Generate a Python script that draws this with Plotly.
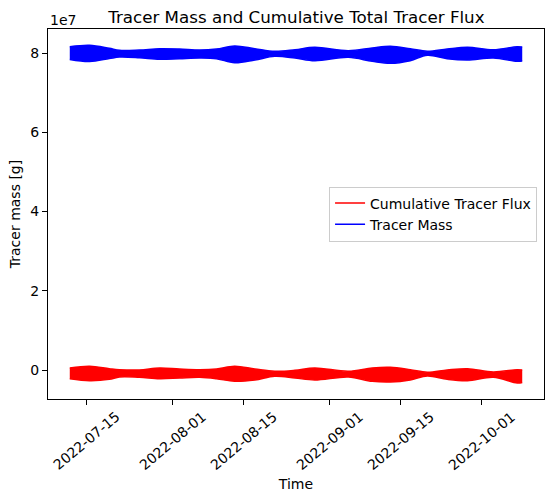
import numpy as np
import plotly.graph_objects as go

# envelope of the hourly signal (values in 1e6 g)
datas = ["2022-07-11 19:00", "2022-07-15 17:00", "2022-07-19 14:00", "2022-07-21 14:00",
         "2022-07-25 12:00", "2022-07-29 12:00", "2022-08-02 10:00", "2022-08-06 10:00",
         "2022-08-09 17:00", "2022-08-13 07:00", "2022-08-17 07:00", "2022-08-21 05:00",
         "2022-08-25 05:00", "2022-08-29 02:00", "2022-09-04 17:00", "2022-09-09 10:00",
         "2022-09-13 00:00", "2022-09-16 22:00", "2022-09-20 07:00", "2022-09-24 05:00",
         "2022-09-28 05:00", "2022-10-03 07:00", "2022-10-08 00:00", "2022-10-09 00:00"]

massa_max = [81.60, 81.97, 81.19, 80.68, 80.76, 81.09, 81.01, 80.76, 81.01, 81.77, 81.09, 80.43,
             80.84, 81.44, 80.58, 81.27, 81.70, 81.09, 80.43, 81.01, 81.44, 80.84, 81.60, 81.52]
massa_min = [78.35, 77.85, 78.61, 78.99, 78.81, 78.40, 78.56, 78.73, 78.56, 77.54, 78.23, 79.16,
             78.73, 78.05, 78.91, 77.90, 77.39, 78.05, 79.42, 78.56, 78.23, 78.73, 77.90, 77.97]

fluxo_max = [0.51, 0.94, 0.33, 0.08, 0.00, 0.51, 0.25, 0.08, 0.25, 0.94, 0.25, -0.33,
             -0.08, 0.51, -0.33, 0.51, 0.68, 0.08, -0.58, 0.00, 0.33, -0.51, 0.08, 0.00]
fluxo_min = [-2.20, -2.71, -2.36, -1.77, -1.85, -2.20, -2.03, -1.85, -2.20, -2.86, -2.53, -1.60,
             -2.03, -2.53, -1.77, -2.86, -3.04, -2.53, -1.52, -2.36, -2.71, -1.85, -3.29, -3.16]

ticks_x = ["2022-07-15", "2022-08-01", "2022-08-15", "2022-09-01", "2022-09-15", "2022-10-01"]
ticks_y = [0, 2e7, 4e7, 6e7, 8e7]
rotulos_y = ["0", "2", "4", "6", "8"]

escala = 1e6
fonte = "DejaVu Sans"

fig = go.Figure()

for nome, cor, sup, inf in [("Cumulative Tracer Flux", "#ff0000", fluxo_max, fluxo_min),
                            ("Tracer Mass", "#0000ff", massa_max, massa_min)]:
    fig.add_trace(go.Scatter(x=datas, y=np.array(sup) * escala, mode="lines", name=nome,
                             legendgroup=nome, line=dict(color=cor, width=1.5, shape="spline")))
    fig.add_trace(go.Scatter(x=datas, y=np.array(inf) * escala, mode="lines", name=nome,
                             legendgroup=nome, showlegend=False, fill="tonexty",
                             fillcolor=cor, line=dict(color=cor, width=1.5, shape="spline")))

# rotulos do eixo x centrados no tick, como no matplotlib
for t in ticks_x:
    fig.add_annotation(x=t, xref="x", y=0, yref="paper", text=t, textangle=-40,
                       xanchor="center", yanchor="middle", yshift=-42, showarrow=False,
                       font=dict(family=fonte, size=14, color="black"))

fig.add_annotation(x=0, xref="paper", y=1, yref="paper", text="1e7", xanchor="left",
                   yanchor="bottom", yshift=-1, showarrow=False,
                   font=dict(family=fonte, size=14, color="black"))

fig.update_layout(
    width=554, height=501,
    margin=dict(l=48, r=10, t=29, b=102),
    paper_bgcolor="white", plot_bgcolor="white",
    font=dict(family=fonte, size=14, color="black"),
    title=dict(text="Tracer Mass and Cumulative Total Tracer Flux", x=0.535, xanchor="center",
               y=1 - 17 / 501, yanchor="middle", font=dict(size=16.7)),
    legend=dict(x=0.986, xanchor="right", y=0.5, yanchor="middle", tracegroupgap=0,
                bgcolor="rgba(255,255,255,0.8)", bordercolor="#cccccc", borderwidth=1,
                font=dict(size=14)),
    showlegend=True,
)

fig.update_xaxes(range=["2022-07-07 12:00", "2022-10-13 07:00"], tickvals=ticks_x,
                 showticklabels=False, ticks="outside", ticklen=5, tickcolor="black",
                 showline=True, linecolor="black", linewidth=1, mirror=True, showgrid=False,
                 zeroline=False, title=dict(text="Time", standoff=75, font=dict(size=14)))
fig.update_yaxes(range=[-0.732e7, 8.606e7], tickvals=ticks_y, ticktext=rotulos_y,
                 ticks="outside", ticklen=5, tickcolor="black",
                 showline=True, linecolor="black", linewidth=1, mirror=True, showgrid=False,
                 zeroline=False, title=dict(text="Tracer mass [g]", standoff=6, font=dict(size=14)))

# tira a margem padrao do body para a figura ocupar a janela inteira
fig.write_html("out.html", config={"displayModeBar": False},
               post_script="document.body.style.margin='0';")
